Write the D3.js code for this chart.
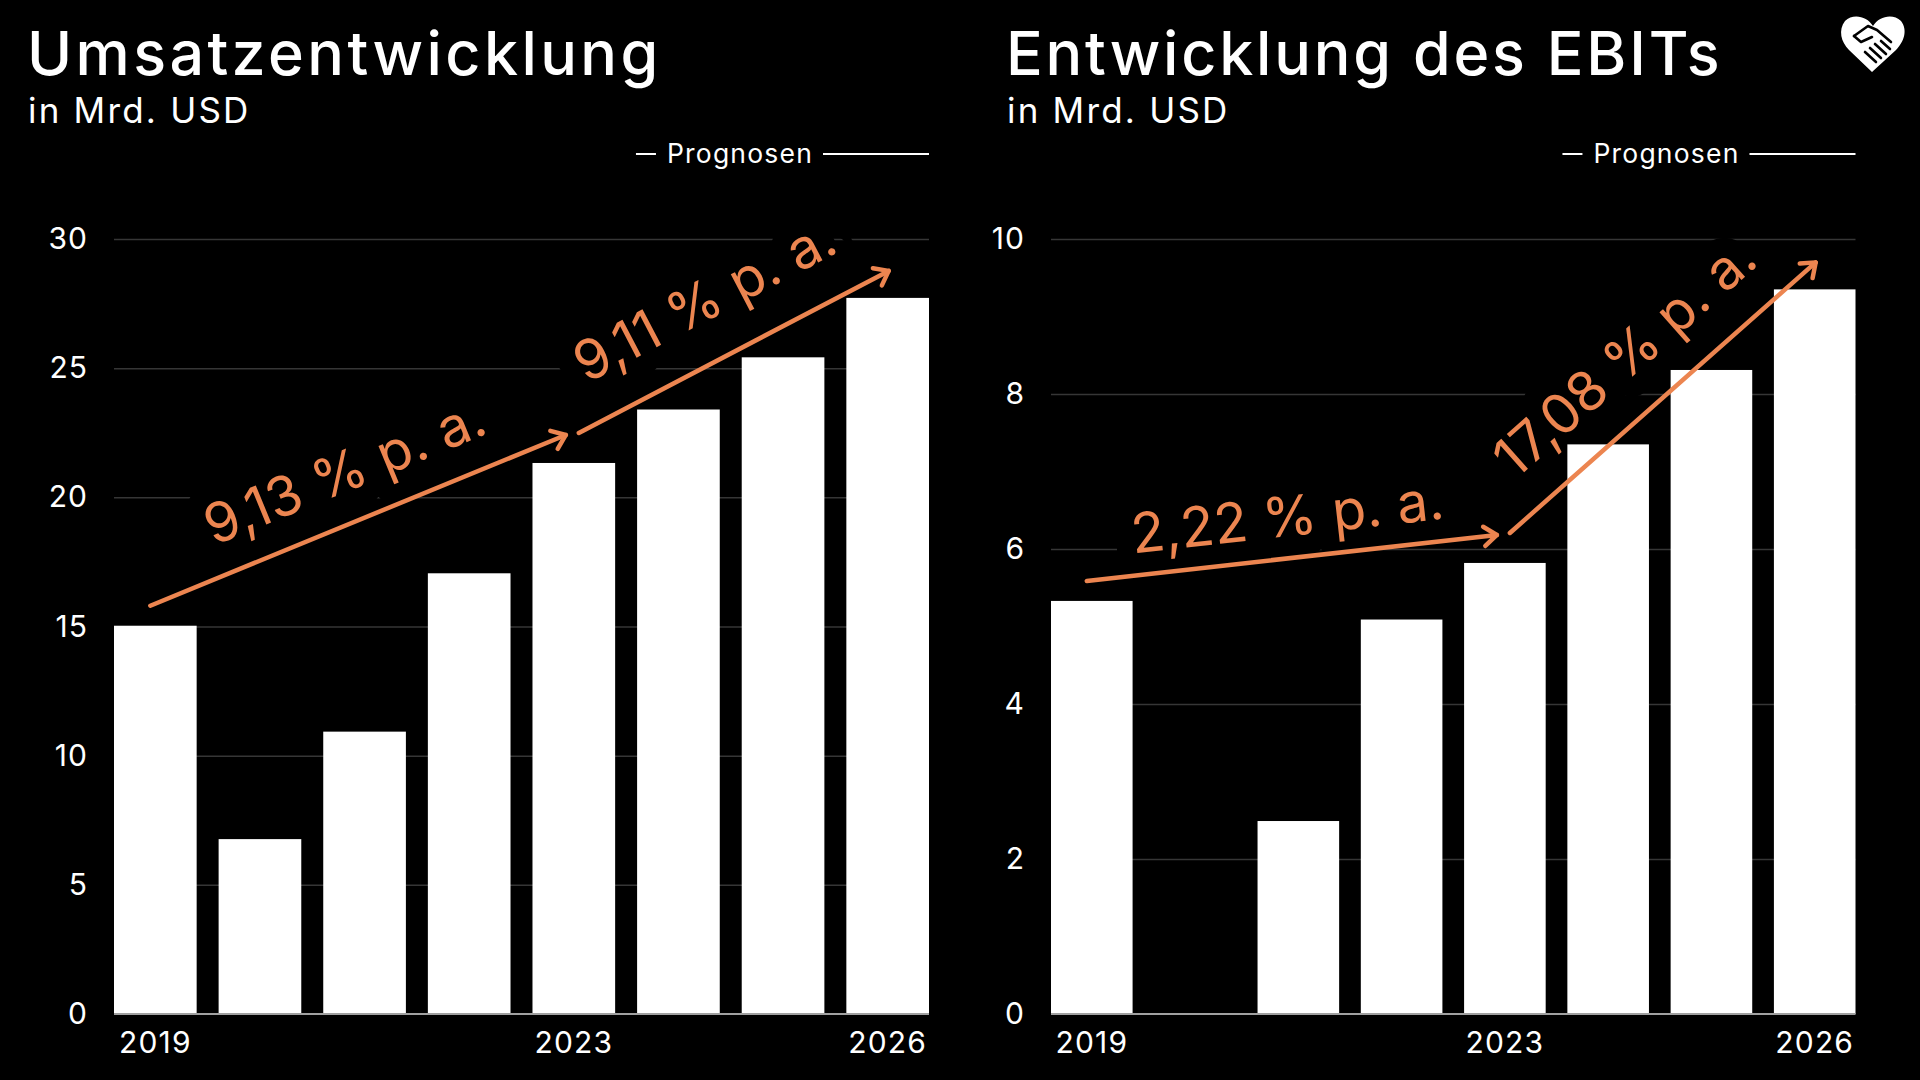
<!DOCTYPE html>
<html><head><meta charset="utf-8">
<script src="https://cdn.jsdelivr.net/npm/d3@7"></script>
<style>
html,body{margin:0;padding:0;background:#000;}
svg{display:block;}
text{font-family:Inter,"Open Sans",sans-serif;}
</style>
</head><body>
<svg id="c" width="1920" height="1080"></svg>
<script>
// ---------- DATA ----------
const years = ["2019","2020","2021","2022","2023","2024","2025","2026"];
const revenue = [15.03, 6.77, 10.93, 17.06, 21.33, 23.40, 25.42, 27.72];
const ebit = [5.33, null, 2.49, 5.09, 5.82, 7.35, 8.31, 9.35];
const revenueTicks = [0, 5, 10, 15, 20, 25, 30];
const ebitTicks = [0, 2, 4, 6, 8, 10];
const xLabelYears = ["2019", "2023", "2026"];
const revenueGrowth = [
  {from: "2019", to: "2023", label: "9,13 % p. a."},
  {from: "2023", to: "2026", label: "9,11 % p. a."}
];
const ebitGrowth = [
  {from: "2019", to: "2023", label: "2,22 % p. a."},
  {from: "2023", to: "2026", label: "17,08 % p. a."}
];
const titles = ["Umsatzentwicklung", "Entwicklung des EBITs"];
const subtitle = "in Mrd. USD";
const legendLabel = "Prognosen";

// ---------- STYLE / LAYOUT ----------
const ORANGE = "#EC8550";
const GRID = "#363636";
const Y0 = 1014, Y1 = 239;
const panels = [
  {title: titles[0], values: revenue, ticks: revenueTicks, growth: revenueGrowth,
   titleX: 27, left: 114, right: 929, perp: [31, 40], along: [6, -2], titleLS: 3.4},
  {title: titles[1], values: ebit, ticks: ebitTicks, growth: ebitGrowth,
   titleX: 1006, left: 1051, right: 1855.5, perp: [22, 36], along: [0, -2], titleLS: 2.8}
];
const startDx = [-5, 5], endDx = [-8, 1];
const startDy = [-20, -30], endDy = [-28, -27];

const svg = d3.select("#c");
svg.append("rect").attr("width", 1920).attr("height", 1080).attr("fill", "#000");

// annotation font size so that "9,13 % p. a." is ~298px long
const probe = svg.append("text").attr("font-size", 50).attr("font-weight", 400).text(revenueGrowth[0].label);
const annSize = 50 * 298 / probe.node().getComputedTextLength();
probe.remove();

panels.forEach(p => {
  const x = d3.scaleBand().domain(years).range([p.left, p.right]).paddingInner(0.21).paddingOuter(0);
  const y = d3.scaleLinear().domain([0, d3.max(p.ticks)]).range([Y0, Y1]);
  const g = svg.append("g");

  // titles
  g.append("text").attr("x", p.titleX).attr("y", 75).attr("fill", "#fff")
    .attr("font-size", 61).attr("font-weight", 500).attr("letter-spacing", p.titleLS).text(p.title);
  g.append("text").attr("x", p.titleX + 1).attr("y", 123).attr("fill", "#fff")
    .attr("font-size", 35).attr("font-weight", 400).attr("letter-spacing", 2.2).text(subtitle);

  // legend "— Prognosen ———"
  const lg = g.append("g");
  const lt = lg.append("text").attr("x", p.right - 116).attr("y", 163).attr("text-anchor", "end")
    .attr("fill", "#fff").attr("font-size", 26.5).attr("letter-spacing", 1.2).text(legendLabel);
  const tw = lt.node().getComputedTextLength();
  lg.append("line").attr("x1", p.right - 106).attr("x2", p.right).attr("y1", 154).attr("y2", 154)
    .attr("stroke", "#fff").attr("stroke-width", 2);
  lg.append("line").attr("x1", p.right - 116 - tw - 31).attr("x2", p.right - 116 - tw - 11)
    .attr("y1", 154).attr("y2", 154).attr("stroke", "#fff").attr("stroke-width", 2);

  // y axis with gridlines
  const ya = g.append("g").attr("transform", `translate(${p.left},0)`)
    .call(d3.axisLeft(y).tickValues(p.ticks).tickSize(-(p.right - p.left)).tickPadding(26));
  ya.select(".domain").remove();
  ya.selectAll(".tick line").attr("stroke", d => d === 0 ? "none" : GRID).attr("stroke-width", 1.5);
  ya.selectAll(".tick text").attr("fill", "#fff").attr("font-size", 30).attr("letter-spacing", 1)
    .attr("font-family", "Inter, 'Open Sans', sans-serif");

  // growth geometry
  const geo = p.growth.map((gr, i) => {
    const a = years.indexOf(gr.from), b = years.indexOf(gr.to);
    const x1 = x(gr.from) + x.bandwidth() / 2 + startDx[i];
    const y1 = y(p.values[a]) + startDy[i];
    const x2 = x(gr.to) + x.bandwidth() / 2 + endDx[i];
    const y2 = y(p.values[b]) + endDy[i];
    const ang = Math.atan2(y2 - y1, x2 - x1);
    const dx = Math.cos(ang), dy = Math.sin(ang);
    const nx = dy, ny = -dx; // upward normal
    const mx = (x1 + x2) / 2 + nx * p.perp[i] + dx * p.along[i];
    const my = (y1 + y2) / 2 + ny * p.perp[i] + dy * p.along[i];
    return {x1, y1, x2, y2, ang, mx, my, label: gr.label};
  });

  // halo behind bars (hides gridlines around labels)
  g.append("g").selectAll("text").data(geo).join("text")
    .attr("transform", d => `translate(${d.mx},${d.my}) rotate(${d.ang * 180 / Math.PI})`)
    .attr("text-anchor", "middle").attr("font-size", annSize)
    .attr("fill", "#000").attr("stroke", "#000").attr("stroke-width", 40)
    .attr("stroke-linejoin", "round").text(d => d.label);

  // bars
  g.append("g").selectAll("rect")
    .data(years.map((yr, i) => ({yr, v: p.values[i]})).filter(d => d.v != null))
    .join("rect")
    .attr("x", d => x(d.yr)).attr("width", x.bandwidth())
    .attr("y", d => y(d.v)).attr("height", d => Y0 - y(d.v))
    .attr("fill", "#fff");

  // baseline
  g.append("line").attr("x1", p.left).attr("x2", p.right).attr("y1", y(0)).attr("y2", y(0))
    .attr("stroke", "#a0a0a0").attr("stroke-width", 2);

  // x axis labels
  const xa = g.append("g").attr("transform", `translate(0,${Y0})`)
    .call(d3.axisBottom(x).tickValues(xLabelYears).tickSize(0).tickPadding(18));
  xa.select(".domain").remove();
  xa.selectAll(".tick text").attr("fill", "#fff").attr("font-size", 30).attr("letter-spacing", 1.2)
    .attr("font-family", "Inter, 'Open Sans', sans-serif");

  // arrows
  const ag = g.append("g").attr("stroke", ORANGE).attr("stroke-width", 4.5)
    .attr("stroke-linecap", "round").attr("fill", "none");
  geo.forEach(d => {
    ag.append("line").attr("x1", d.x1).attr("y1", d.y1).attr("x2", d.x2).attr("y2", d.y2);
    const L = 16, h = 0.65;
    const pts = [
      [d.x2 - L * Math.cos(d.ang - h), d.y2 - L * Math.sin(d.ang - h)],
      [d.x2, d.y2],
      [d.x2 - L * Math.cos(d.ang + h), d.y2 - L * Math.sin(d.ang + h)]
    ];
    ag.append("path").attr("d", d3.line()(pts)).attr("stroke-linejoin", "round");
  });

  // labels
  g.append("g").selectAll("text").data(geo).join("text")
    .attr("transform", d => `translate(${d.mx},${d.my}) rotate(${d.ang * 180 / Math.PI})`)
    .attr("text-anchor", "middle").attr("font-size", annSize)
    .attr("fill", ORANGE).text(d => d.label);
});

// logo: heart with handshake
const logo = svg.append("g").attr("transform", "translate(1841,15)");
logo.append("path")
  .attr("d", "M32,11 C26,1 12,-2 4,6 C-3,15 0,27 8,35 L31,57 L55,35 C63,27 67,15 60,6 C52,-2 38,1 32,11 Z")
  .attr("fill", "#fff");
const hs = logo.append("g").attr("stroke", "#000").attr("stroke-width", 2.6)
  .attr("fill", "none").attr("stroke-linecap", "round").attr("stroke-linejoin", "round");
hs.append("path").attr("d", "M13,21 L27,11 L36,15 L50,27");
hs.append("path").attr("d", "M13,21 L20,27 L31,22");
hs.append("path").attr("d", "M24,37 L35,47");
hs.append("path").attr("d", "M29,33 L40,43");
hs.append("path").attr("d", "M34,29 L45,39");
hs.append("path").attr("d", "M40,26 L49,34");
</script>
</body></html>
